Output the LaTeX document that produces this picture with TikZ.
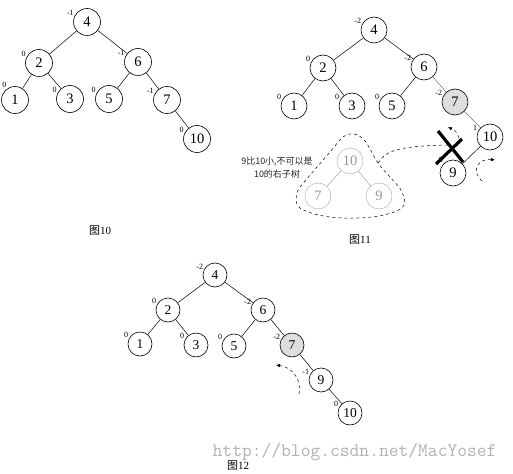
\documentclass[tikz,border=0pt]{standalone}
\usepackage{fontspec}
\setmainfont{Liberation Serif}
\newfontfamily\cjk{Noto Sans CJK SC}
\usetikzlibrary{arrows.meta}

\begin{document}
\begin{tikzpicture}[x=1pt,y=-1pt,
vertex/.style={circle,draw,line width=0.6pt,minimum size=26pt,inner sep=0pt,font=\fontsize{14.5}{14.5}\selectfont},
hot/.style={vertex,fill=black!13},
faded/.style={vertex,draw=black!35,text=black!40,line width=0.4pt},
bal/.style={font=\fontsize{8}{8}\selectfont,inner sep=0.6pt},
bf/.style={label={[bal]155:#1}},
edge/.style={line width=0.5pt},
turn/.style={-{Latex[length=4pt,width=3.5pt]},dashed,line width=0.5pt},
caption/.style={font=\fontsize{11}{11}\selectfont}]
\useasboundingbox[fill=white](0,0) rectangle (513,473);
% tree of fig. 10
\node[vertex,minimum size=27pt,bf=-1](a4) at (87,22){4};
\node[vertex,minimum size=27pt,bf=0](a2) at (39,63){2};
\node[vertex,minimum size=27pt,bf=-1](a6) at (138,62){6};
\node[vertex,minimum size=27pt,label={[bal]125:0}](a1) at (15,100){1};
\node[vertex,minimum size=27pt,bf=0](a3) at (70,99){3};
\node[vertex,minimum size=27pt,bf=0](a5) at (109,99){5};
\node[vertex,minimum size=27pt,bf=-1](a7) at (167,100){7};
\node[vertex,minimum size=27pt,bf=0](a10) at (197,139){10};
\draw[edge](a4)--(a2) (a4)--(a6) (a2)--(a1) (a2)--(a3) (a6)--(a5) (a6)--(a7) (a7)--(a10);
\node[caption](t10) at (100,231){{\cjk 图}10};
% tree of fig. 11
\node[vertex,bf=-2](b4) at (374,30){4};
\node[vertex,bf=0](b2) at (323,68){2};
\node[vertex,bf=-2](b6) at (424,67){6};
\node[vertex,bf=0](b1) at (294,106){1};
\node[vertex,bf=0](b3) at (352,106){3};
\node[vertex,bf=0](b5) at (392,106){5};
\node[hot,bf=-2](b7) at (455,102){7};
\node[vertex,bf=1](b10) at (490,137){10};
\node[vertex,label={[bal]135:0}](b9) at (453,173){9};
\draw[edge](b4)--(b2) (b4)--(b6) (b2)--(b1) (b2)--(b3) (b6)--(b5) (b10)--(b9);
\draw[edge,black!55](b6)--(b7) (b7)--(b10);
% the cut link and the rejected subtree
\coordinate(xc) at (449,145);
\coordinate(bn) at (378,163);
\draw[line width=3.2pt](438,131)--(463,162);
\draw[line width=3.2pt](436,164)--(462,139);
\draw[turn](459,138) .. controls (456,131) .. (448,127);
\draw[turn](482,181) .. controls (470,170) and (479,158) .. (495,160);
\node[faded](f10) at (350,161){10};
\node[faded](f7) at (318,196){7};
\node[faded](f9) at (379,196){9};
\draw[edge,black!35](f10)--(f7) (f10)--(f9);
\draw[dashed,line width=0.5pt] plot[smooth cycle,tension=0.6] coordinates
  {(343,137) (354,134) (365,141) (bn) (390,177) (402,192) (402,208) (372,217) (330,217) (300,208) (297,193) (306,180) (330,152)};
\draw[dashed,line width=0.5pt](bn) .. controls (386,150) and (400,146) .. (xc);
\node[font=\fontsize{9}{13}\selectfont\cjk,align=center,text=black!85](note) at (277,168){9比10小,不可以是\\10的右子树};
\node[caption](t11) at (360,240){{\cjk 图}11};
% tree of fig. 12
\begin{scope}[vertex/.append style={minimum size=24pt,font=\fontsize{13.5}{13.5}\selectfont}]
\node[vertex,bf=-2](c4) at (215,275){4};
\node[vertex,bf=0](c2) at (168,310){2};
\node[vertex,bf=-2](c6) at (263,310){6};
\node[vertex,bf=0](c1) at (140,344){1};
\node[vertex,bf=0](c3) at (196,345){3};
\node[vertex,bf=0](c5) at (234,346){5};
\node[hot,bf=-2](c7) at (292,345){7};
\node[vertex,bf=-1](c9) at (321,380){9};
\node[vertex,bf=0](c10) at (350,413){10};
\end{scope}
\draw[edge](c4)--(c2) (c4)--(c6) (c2)--(c1) (c2)--(c3) (c6)--(c5) (c6)--(c7) (c7)--(c9) (c9)--(c10);
\draw[turn](299,394) .. controls (302,378) and (291,367) .. (276,365);
\node[caption](t12) at (238,466){{\cjk 图}12};
\node[font=\fontsize{19}{19}\selectfont\ttfamily,text=black!30,anchor=east](mark) at (500,452){http://blog.csdn.net/MacYosef};
\end{tikzpicture}
\end{document}
